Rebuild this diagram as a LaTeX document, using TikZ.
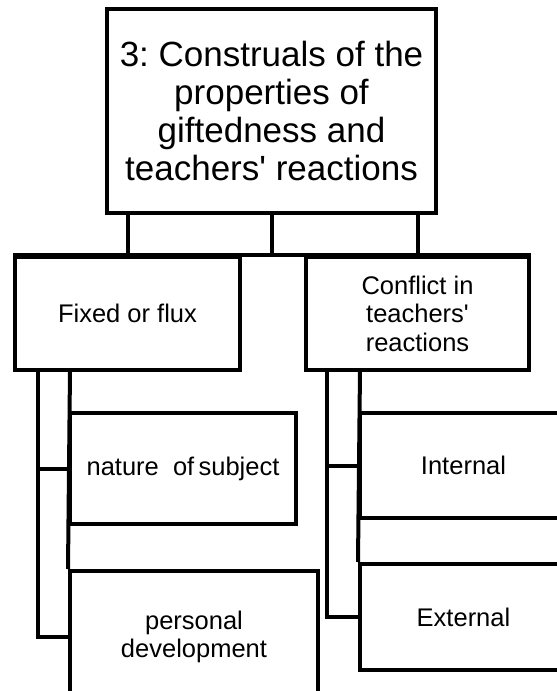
\documentclass[tikz,border=0pt]{standalone}
\usepackage{fontspec}
% Arial-metric sans; \newfontfamily keeps the straight apostrophe
\newfontfamily\chartfont{Liberation Sans}
\frenchspacing
\begin{document}
\begin{tikzpicture}[x=1pt,y=-1pt,
  box/.style={draw, rectangle, line width=4pt, inner sep=0pt, align=center,
    fill=white, font=\chartfont\fontsize{25.5}{28.5}\selectfont},
  link/.style={line width=4pt}]
  % page frame
  \useasboundingbox (0,0) rectangle (557,691);
  \fill[white] (0,0) rectangle (557,691);
  \clip (0,0) rectangle (557,691);

  % top-level heading
  \node[box, minimum width=329pt, minimum height=204pt,
        font=\chartfont\fontsize{35}{38}\selectfont] (top) at (271.5,111)
        {3: Construals of the\\properties of\\giftedness and\\teachers' reactions};

  % second level
  \node[box, minimum width=225pt, minimum height=113pt] (fixed) at (127.5,313.5)
        {Fixed or flux};
  \node[box, minimum width=223pt, minimum height=113pt] (conflict) at (417.5,313.5)
        {Conflict in\\teachers'\\reactions};

  % third level, left branch
  \node[box, minimum width=226pt, minimum height=111pt] (nature) at (183,468.5)
        {nature~ of\,subject};
  \node[box, minimum width=248pt, minimum height=132pt] (personal) at (194,637)
        {personal\\development};

  % third level, right branch
  \node[box, minimum width=207pt, minimum height=105pt] (internal) at (463.5,465.5)
        {Internal};
  \node[box, minimum width=207pt, minimum height=106pt] (external) at (463.5,617)
        {External};

  % bus under the heading
  \draw[link] (fixed.north west) -- (conflict.north east);
  \draw[link] (fixed.north |- top.south) -- (fixed.north);
  \draw[link] (top.south) -- (top.south |- fixed.north);
  \draw[link] (conflict.north |- top.south) -- (conflict.north);

  % left branch connectors
  \coordinate (fxa) at (38,370);
  \coordinate (fxb) at (70,370);
  \draw[link] (fxa) |- (personal.west);
  \draw[link] (fxa |- nature.west) -- (nature.west);
  \draw[link] (fxb) -- (personal.north west);

  % right branch connectors
  \coordinate (cfa) at (327,370);
  \coordinate (cfb) at (360,370);
  \draw[link] (cfa) |- (external.west);
  \draw[link] (cfa |- internal.west) -- (internal.west);
  \draw[link] (cfb) -- (external.north west);
\end{tikzpicture}
\end{document}
